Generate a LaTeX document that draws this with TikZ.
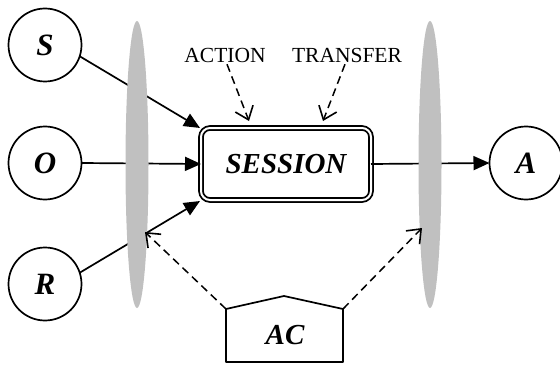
\documentclass[tikz,border=0pt]{standalone}
\usepackage{fontspec}
\setmainfont{Liberation Serif}
\usetikzlibrary{arrows.meta,calc}

\definecolor{fence}{HTML}{C0C0C0}

\tikzset{
  every node/.style={inner sep=0pt, outer sep=0pt},
  entity/.style={circle, draw, line width=1.7pt, minimum size=73pt,
    font=\fontsize{31}{32}\selectfont\bfseries\itshape},
  sessbox/.style={draw, line width=1.8pt, double, double distance=2pt,
    rounded corners=9pt, minimum width=170pt, minimum height=72pt,
    font=\fontsize{29}{30}\selectfont\bfseries\itshape},
  tag/.style={font=\fontsize{21.5}{23}\selectfont},
  flow/.style={line width=1.7pt, -{Triangle[length=16pt,width=14pt]}},
  ctrl/.style={line width=1.5pt, dash pattern=on 8pt off 5pt,
    -{Straight Barb[length=12pt,width=19pt,line width=1.6pt]}},
  fencestyle/.style={fill=fence, draw=none}
}

\begin{document}
\begin{tikzpicture}[x=1pt,y=1pt]
  \useasboundingbox (0,0) rectangle (560,365);

  % entities
  \node[entity] (S) at (45,320) {S};
  \node[entity] (O) at (45,202) {O};
  \node[entity] (R) at (45,81) {R};
  \node[entity] (A) at (526,202) {A};

  % central session
  \node[sessbox] (sess) at (286,201) {SESSION};

  % labels above the session
  \node[tag] (act) at (225,310) {ACTION};
  \node[tag] (tra) at (347,310) {TRANSFER};

  % access control block
  \coordinate (acL) at (226,56);
  \coordinate (acR) at (343,56);
  \draw[line width=1.7pt, line join=round] (acL) -- (284,69) -- (acR) -- (343,3) -- (226,3) -- cycle;
  \node[font=\fontsize{29}{30}\selectfont\bfseries\itshape] (AC) at (285,30) {AC};

  % input and output flows
  \draw[flow] (S.-18) -- ($(sess.north west)+(-1,0)$);
  \draw[flow] (O.east) -- (sess.west);
  \draw[flow] (R.18) -- ($(sess.south west)+(-1,-1)$);
  \draw[flow] (sess.east) -- (A.west);

  % enforcement fences
  \fill[fencestyle] (137,200.5) ellipse [x radius=11.5, y radius=143.5];
  \fill[fencestyle] (430,200.5) ellipse [x radius=11.5, y radius=143.5];

  % control arrows
  \coordinate (fenceL) at (145,133);
  \coordinate (fenceR) at (422,137);
  \draw[ctrl] (act.south) ++(2,-2) -- (249,244);
  \draw[ctrl] (tra.south) ++(-2,-2) -- (323,244);
  \draw[ctrl] (acL) -- (fenceL);
  \draw[ctrl] (acR) -- (fenceR);
\end{tikzpicture}
\end{document}
